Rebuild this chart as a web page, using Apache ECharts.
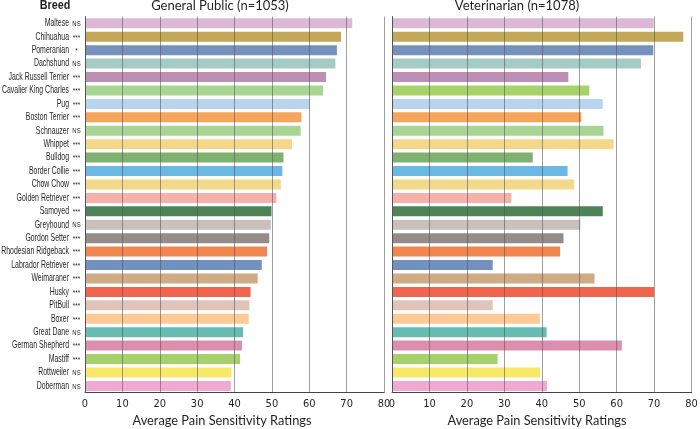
<!DOCTYPE html>
<html>
<head>
<meta charset="utf-8">
<script src="https://cdn.jsdelivr.net/npm/echarts@6/dist/echarts.min.js"></script>
<style>html,body{margin:0;padding:0;background:#fff;}#c{width:700px;height:429px;}</style>
</head>
<body>
<div id="c"></div>
<script>
const breeds = ['Maltese','Chihuahua','Pomeranian','Dachshund','Jack Russell Terrier','Cavalier King Charles','Pug','Boston Terrier','Schnauzer','Whippet','Bulldog','Border Collie','Chow Chow','Golden Retriever','Samoyed','Greyhound','Gordon Setter','Rhodesian Ridgeback','Labrador Retriever','Weimaraner','Husky','PitBull','Boxer','Great Dane','German Shepherd','Mastiff','Rottweiler','Doberman'];
const markers = ['NS','***','*','NS','***','***','***','***','NS','***','***','***','***','***','***','NS','***','***','***','***','***','***','***','NS','***','***','NS','NS'];
const publicRatings = [71.5,68.5,67.4,67.0,64.5,63.7,60.2,57.9,57.7,55.4,53.1,52.8,52.4,51.2,49.9,49.7,49.3,48.7,47.3,46.2,44.3,44.0,43.8,42.3,42.0,41.5,39.2,39.0];
const vetRatings = [69.9,77.8,69.8,66.5,47.1,52.7,56.3,50.6,56.5,59.2,37.6,46.9,48.7,31.9,56.3,50.3,45.8,44.9,26.9,54.1,70.0,26.9,39.5,41.3,61.4,28.2,39.6,41.4];
const xTicks = [0,10,20,30,40,50,60,70,80];
const panelTitles = ['General Public (n=1053)','Veterinarian (n=1078)'];
const axisTitle = 'Average Pain Sensitivity Ratings';
const breedHeader = 'Breed';

const colorsPublic = ['#dcb8d6','#c4a85a','#7691bb','#a6cbc5','#be8fb5','#a8d594','#b8d5ed','#f5a55c','#a8d596','#f3d88c','#80b072','#6bb7e5','#f2d98c','#f7b1ad','#4e8358','#c9c0bc','#958b88','#f08550','#7391c0','#d0ab86','#ef654e','#e1c4b9','#fdc995','#66bbb2','#db8fac','#a6d06c','#f8e868','#f2a9d1'];
const colorsVet = colorsPublic.slice(); colorsVet[5] = '#a9d16a';

const chart = echarts.init(document.getElementById('c'), null, {renderer:'canvas'});
const narrow = '"Liberation Sans Narrow","DejaVu Sans Condensed",sans-serif';
const sans = '"Liberation Sans",Arial,sans-serif';
const txt = '#231f20';

function xAxisCfg(gi){
  return {
    type:'value', gridIndex:gi, min:0, max:80, interval:10, z:5,
    axisLine:{show:true, onZero:false, lineStyle:{color:'#444', width:1}},
    axisTick:{show:false},
    splitLine:{show:true, lineStyle:{color:'rgba(80,80,80,0.55)', width:1}},
    axisLabel:{color:txt, fontFamily:narrow, fontSize:11, margin:6,
      formatter:(v)=> xTicks.includes(v) ? String(v) : ''}
  };
}
function yAxisCfg(gi){
  return {
    type:'category', gridIndex:gi, data:breeds, inverse:true, z:6,
    axisLine:{show:true, lineStyle:{color:'#555', width:1}},
    axisTick:{show:false},
    splitLine:{show:false},
    axisLabel:{show:false}
  };
}

chart.setOption({
  animation:false,
  backgroundColor:'#fff',
  grid:[
    {left:85, top:16.6, width:299, height:376, outerBoundsMode:'none', containLabel:false},
    {left:392, top:16.6, width:299.5, height:376, outerBoundsMode:'none', containLabel:false}
  ],
  xAxis:[xAxisCfg(0), xAxisCfg(1)],
  yAxis:[yAxisCfg(0), yAxisCfg(1)],
  series:[
    {type:'bar', xAxisIndex:0, yAxisIndex:0, data:publicRatings, barWidth:10,
      itemStyle:{color:(p)=>colorsPublic[p.dataIndex]}},
    {type:'bar', xAxisIndex:1, yAxisIndex:1, data:vetRatings, barWidth:10,
      itemStyle:{color:(p)=>colorsVet[p.dataIndex]}}
  ]
});

// Breed names and significance markers, placed at the category positions given by the y axis scale
const g = [];
breeds.forEach((b, i) => {
  const pt = chart.convertToPixel({gridIndex:0}, [0, b]);
  const y = pt[1];
  g.push({type:'text', x:69, y:y, scaleX:0.66, silent:true,
    style:{text:b, x:0, y:0, fontFamily:sans, fontSize:10.5, fill:txt, align:'right', verticalAlign:'middle'}});
  g.push({type:'text', x:76.5, y:y+0.8, scaleX:0.85, silent:true,
    style:{text:markers[i], x:0, y:0, fontFamily:sans, fontSize:markers[i]==='NS'?7:7.5, fill:txt, align:'center', verticalAlign:'middle'}});
});
g.push({type:'text', x:55, y:6, scaleX:0.9, style:{text:breedHeader, x:0, y:0, fontFamily:sans, fontWeight:'bold', fontSize:12, fill:txt, align:'center', verticalAlign:'middle'}});
g.push({type:'text', x:220, y:6, style:{text:panelTitles[0], fontFamily:'Lato,sans-serif', fontSize:13, fill:txt, align:'center', verticalAlign:'middle'}});
g.push({type:'text', x:517, y:6, style:{text:panelTitles[1], fontFamily:'Lato,sans-serif', fontSize:13, fill:txt, align:'center', verticalAlign:'middle'}});
g.push({type:'text', x:222, y:421, style:{text:axisTitle, fontFamily:'Lato,sans-serif', fontSize:12.8, fill:txt, align:'center', verticalAlign:'middle'}});
g.push({type:'text', x:537, y:421, style:{text:axisTitle, fontFamily:'Lato,sans-serif', fontSize:12.8, fill:txt, align:'center', verticalAlign:'middle'}});
chart.setOption({graphic:g});
</script>
</body>
</html>
